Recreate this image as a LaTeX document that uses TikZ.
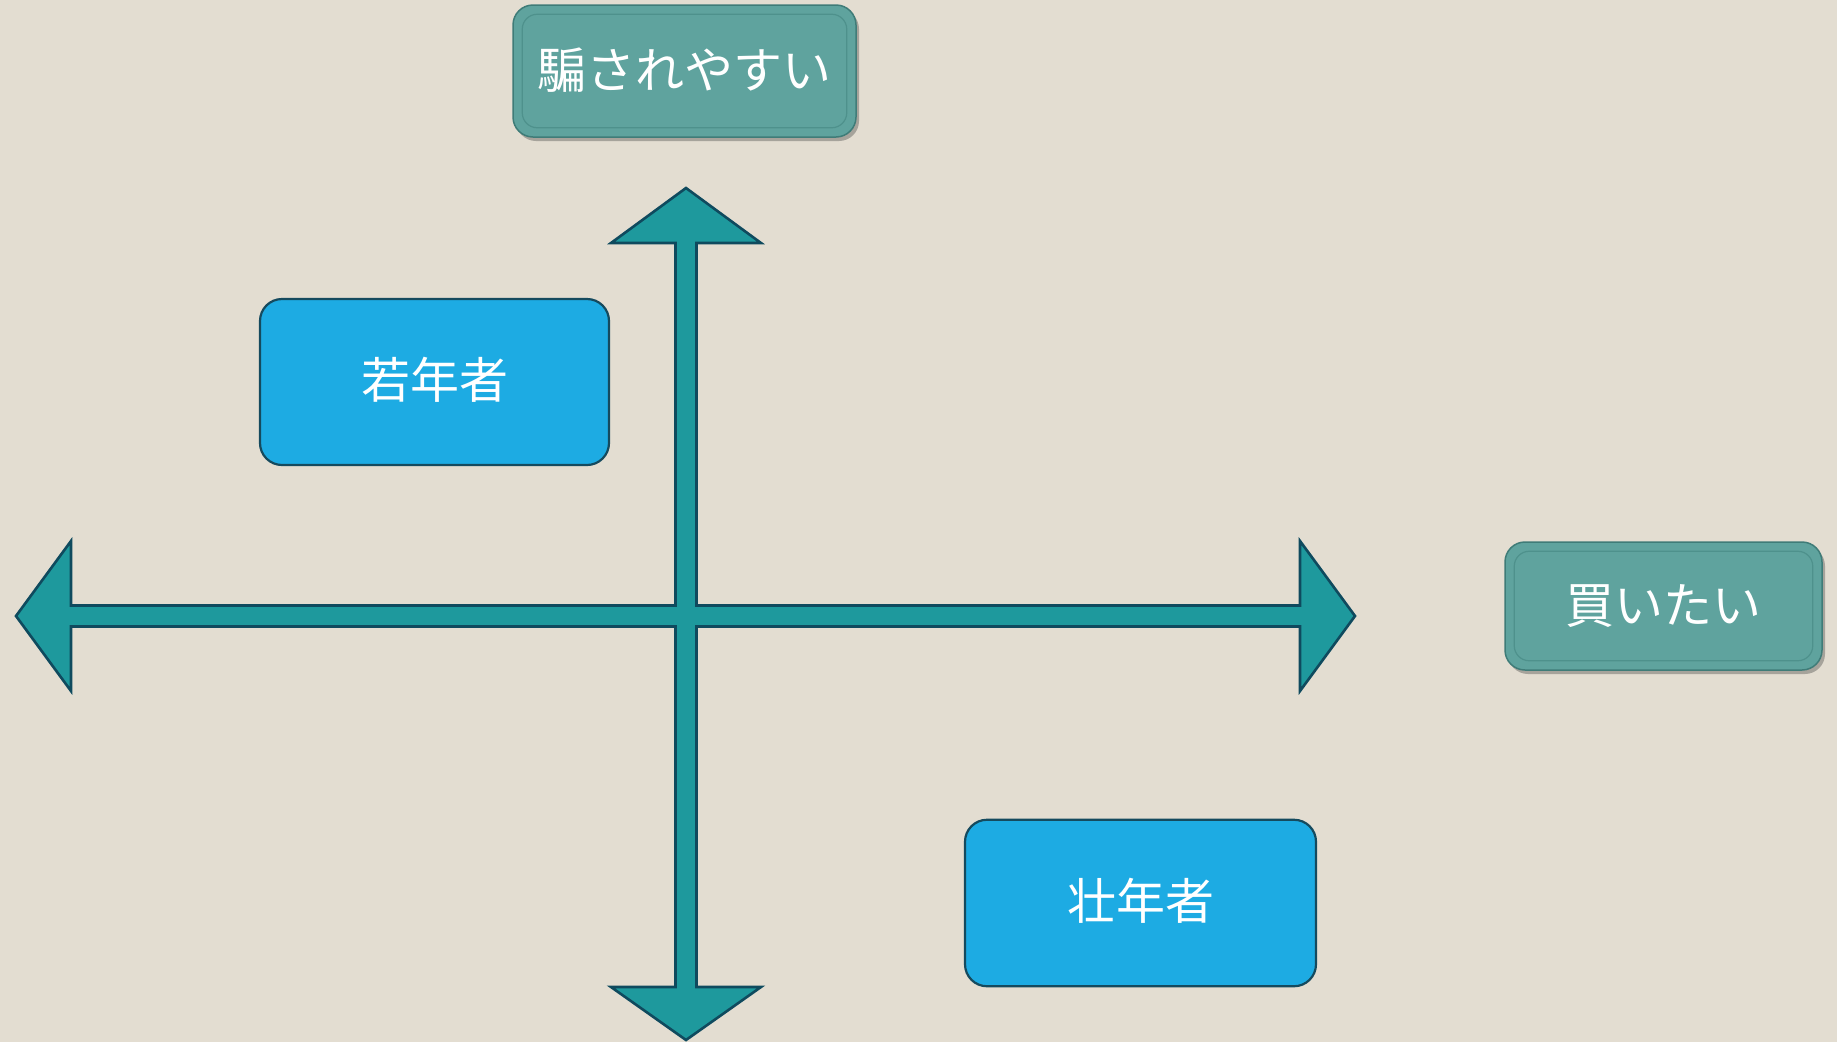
\documentclass[tikz,border=0pt]{standalone}
\usepackage{fontspec}
\setmainfont{Noto Sans CJK JP}
\usetikzlibrary{shadows}
\definecolor{bgc}{HTML}{E3DDD1}
\definecolor{crossfill}{HTML}{1E999D}
\definecolor{crossline}{HTML}{0F4A5E}
\definecolor{bluefill}{HTML}{1DABE3}
\definecolor{blueline}{HTML}{154A5E}
\definecolor{tealfill}{HTML}{5FA39E}
\definecolor{tealline}{HTML}{3F7C78}
\definecolor{tealinner}{HTML}{4E918C}
\tikzset{
  groupbox/.style={rectangle, rounded corners=22pt, fill=bluefill, draw=blueline, line width=2.2pt,
    minimum width=349pt, minimum height=166pt, inner sep=0pt, text=white, font=\fontsize{49}{55}\selectfont},
  axislabel/.style={rectangle, rounded corners=20pt, fill=tealfill, draw=tealline, line width=1.5pt,
    inner sep=0pt, text=white, font=\fontsize{49}{55}\selectfont,
    drop shadow={shadow xshift=3pt, shadow yshift=-4pt, opacity=0.4, fill=black!70}},
  innerframe/.style={draw=tealinner, line width=1.2pt, rounded corners=15pt}
}
\begin{document}
\begin{tikzpicture}[x=1pt,y=-1pt]
\path[fill=bgc] (0,0) rectangle (1837,1042);
% cross arrow
\draw[fill=crossfill, draw=crossline, line width=2.6pt, line join=miter]
  (686,188) -- (761,243) -- (696.5,243) -- (696.5,605.5) -- (1300,605.5) -- (1300,541)
  -- (1355,616) -- (1300,691) -- (1300,626.5) -- (696.5,626.5) -- (696.5,987) -- (761,987)
  -- (686,1040) -- (611,987) -- (675.5,987) -- (675.5,626.5) -- (71,626.5) -- (71,691)
  -- (16,616) -- (71,541) -- (71,605.5) -- (675.5,605.5) -- (675.5,243) -- (611,243) -- cycle;
% group boxes
\node[groupbox] (young) at (434.5,382) {\raisebox{8pt}{若年者}};
\node[groupbox, minimum width=351pt, minimum height=166.5pt] (mid) at (1140.5,903) {\raisebox{8pt}{壮年者}};
% axis labels
\node[axislabel, minimum width=343pt, minimum height=132pt] (yaxis) at (684.5,71) {\raisebox{6pt}{騙されやすい}};
\draw[innerframe] ([xshift=10pt,yshift=-10pt]yaxis.north west) rectangle ([xshift=-10pt,yshift=10pt]yaxis.south east);
\node[axislabel, minimum width=317pt, minimum height=128pt] (xaxis) at (1663.5,606) {\raisebox{4pt}{買いたい}};
\draw[innerframe] ([xshift=10pt,yshift=-10pt]xaxis.north west) rectangle ([xshift=-10pt,yshift=10pt]xaxis.south east);
\end{tikzpicture}
\end{document}
